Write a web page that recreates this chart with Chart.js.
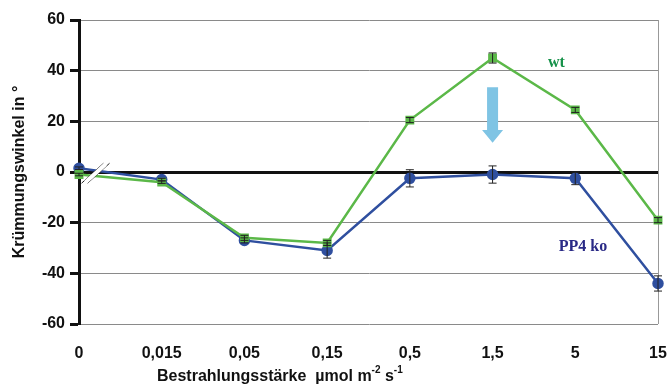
<!DOCTYPE html>
<html>
<head>
<meta charset="utf-8">
<script src="https://cdn.jsdelivr.net/npm/chart.js"></script>
<style>
  html, body { margin: 0; padding: 0; background: #fff; }
  #wrap { width: 669px; height: 387px; }
</style>
</head>
<body>
<div id="wrap"><canvas id="chart"></canvas></div>
<script>
// irradiance steps (category axis)
const irradiance = ["0", "0,015", "0,05", "0,15", "0,5", "1,5", "5", "15"];

// bending angle in degrees
const wtAngle = [-1, -4, -26, -28, 20.5, 45, 24.5, -19];
const wtError = [0.5, 0.5, 1, 1, 1, 2, 1, 1];
const koAngle = [1.5, -3, -27, -31, -2.5, -1, -2.5, -44];
const koError = [0.5, 0.5, 1, 3, 3.4, 3.4, 2.5, 3];

const yTicks = [-60, -40, -20, 0, 20, 40, 60];

const GREEN = "#5bb848";
const BLUE = "#2f4f9f";

// error bars, the "wt"/"PP4 ko" labels, the arrow and the axis break
const extras = {
  id: "extras",
  afterDatasetsDraw(chart) {
    const { ctx, scales: { x, y } } = chart;
    ctx.save();

    // axis break mark between 0 and 0,015
    const bx = x.getPixelForValue(0.2), by = y.getPixelForValue(-0.5);
    ctx.lineWidth = 1;
    ctx.strokeStyle = "#222";
    [-3, 3].forEach(off => {
      ctx.beginPath();
      ctx.moveTo(bx - 11 + off, by + 10);
      ctx.lineTo(bx + 11 + off, by - 10);
      ctx.stroke();
    });
    ctx.strokeStyle = "#fff";
    ctx.lineWidth = 4;
    ctx.beginPath();
    ctx.moveTo(bx - 10, by + 9);
    ctx.lineTo(bx + 10, by - 9);
    ctx.stroke();

    // error bars
    ctx.strokeStyle = "#222";
    ctx.lineWidth = 1;
    const bars = (vals, errs) => vals.forEach((v, i) => {
      const px = x.getPixelForValue(i);
      const top = y.getPixelForValue(v + errs[i]);
      const bot = y.getPixelForValue(v - errs[i]);
      ctx.beginPath();
      ctx.moveTo(px, top); ctx.lineTo(px, bot);
      ctx.moveTo(px - 4, top); ctx.lineTo(px + 4, top);
      ctx.moveTo(px - 4, bot); ctx.lineTo(px + 4, bot);
      ctx.stroke();
    });
    bars(wtAngle, wtError);
    bars(koAngle, koError);

    // arrow at 1,5
    const ax = x.getPixelForValue(5);
    const a0 = y.getPixelForValue(33.5), a1 = y.getPixelForValue(16.6), a2 = y.getPixelForValue(11.5);
    ctx.fillStyle = "#7fc4e4";
    ctx.beginPath();
    ctx.moveTo(ax - 5.5, a0);
    ctx.lineTo(ax + 5.5, a0);
    ctx.lineTo(ax + 5.5, a1);
    ctx.lineTo(ax + 10.5, a1);
    ctx.lineTo(ax, a2);
    ctx.lineTo(ax - 10.5, a1);
    ctx.lineTo(ax - 5.5, a1);
    ctx.closePath();
    ctx.fill();

    // series labels
    ctx.font = "bold 16px 'Liberation Serif'";
    ctx.textBaseline = "middle";
    ctx.textAlign = "left";
    ctx.fillStyle = "#17924a";
    ctx.fillText("wt", x.getPixelForValue(5.67), y.getPixelForValue(43));
    ctx.fillStyle = "#2a2a86";
    ctx.fillText("PP4 ko", x.getPixelForValue(5.8), y.getPixelForValue(-29.5));

    // x axis title with superscripts
    ctx.fillStyle = "#111";
    ctx.textBaseline = "alphabetic";
    let tx = chart.chartArea.left + 78;
    const ty = chart.chartArea.bottom + 57;
    const put = (s, sup) => {
      ctx.font = sup ? "bold 10px 'Liberation Sans'" : "bold 16px 'Liberation Sans'";
      ctx.fillText(s, tx, sup ? ty - 8 : ty);
      tx += ctx.measureText(s).width;
    };
    put("Bestrahlungsstärke  µmol m"); put("-2", true); put(" s"); put("-1", true);

    ctx.restore();
  }
};

new Chart(document.getElementById("chart"), {
  type: "line",
  data: {
    labels: irradiance,
    datasets: [
      {
        label: "wt",
        data: wtAngle,
        borderColor: GREEN,
        backgroundColor: GREEN,
        borderWidth: 2.5,
        pointStyle: "rect",
        pointRadius: 4.5,
        tension: 0
      },
      {
        label: "PP4 ko",
        data: koAngle,
        borderColor: BLUE,
        backgroundColor: BLUE,
        borderWidth: 2.5,
        pointStyle: "circle",
        pointRadius: 4.5,
        tension: 0
      }
    ]
  },
  options: {
    responsive: true,
    maintainAspectRatio: false,
    animation: false,
    layout: { padding: { top: 20, right: 11, left: 0, bottom: 0 } },
    plugins: { legend: { display: false }, tooltip: { enabled: false } },
    scales: {
      x: {
        offset: false,
        afterFit: s => { s.height = 63; s.paddingLeft = 0; s.paddingRight = 0; },
        grid: {
          drawTicks: false,
          color: ctx => ctx.index === irradiance.length - 1 ? "#999" : "transparent",
          lineWidth: 1
        },
        border: { display: false },
        ticks: {
          padding: 20,
          color: "#111",
          maxRotation: 0,
          font: { family: "'Liberation Sans'", size: 16, weight: "bold" }
        }
      },
      y: {
        min: -60,
        max: 60,
        afterFit: s => { s.width = 79; },
        afterBuildTicks: s => { s.ticks = yTicks.map(v => ({ value: v })); },
        grid: {
          color: ctx => ctx.tick && ctx.tick.value === 0 ? "#111" : "#8a8a8a",
          lineWidth: ctx => ctx.tick && ctx.tick.value === 0 ? 3 : 1,
          tickColor: "#111",
          tickWidth: 3,
          tickLength: 9
        },
        border: { color: "#111", width: 3 },
        ticks: {
          padding: 5,
          color: "#111",
          font: { family: "'Liberation Sans'", size: 16, weight: "bold" }
        },
        title: {
          display: true,
          text: "Krümmungswinkel in °",
          color: "#111",
          padding: { top: 10, bottom: 4 },
          font: { family: "'Liberation Sans'", size: 16, weight: "bold" }
        }
      }
    }
  },
  plugins: [extras]
});
</script>
</body>
</html>
